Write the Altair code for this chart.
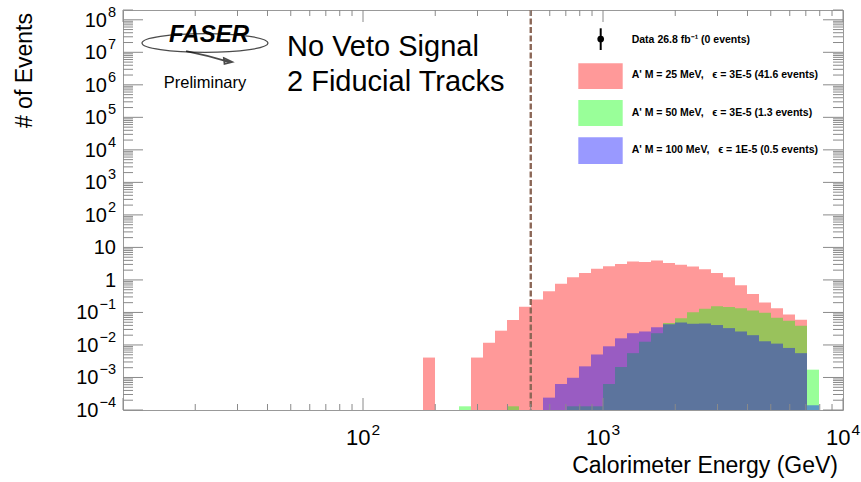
import altair as alt
import pandas as pd

# ---------------------------------------------------------------
# Histogram contents: bins are 0.05 wide in log10(E/GeV).
# *_bins hold each filled bin's lower edge as log10(E/GeV),
# *_events hold the expected events in that bin.
# ---------------------------------------------------------------
BIN_WIDTH = 0.05

m25_bins = [2.25, 2.45, 2.50, 2.55, 2.60, 2.65, 2.70, 2.75, 2.80, 2.85, 2.90,
            2.95, 3.00, 3.05, 3.10, 3.15, 3.20, 3.25, 3.30, 3.35, 3.40, 3.45,
            3.50, 3.55, 3.60, 3.65, 3.70, 3.75, 3.80]
m25_events = [4.1e-3, 4.1e-3, 1.17e-2, 2.75e-2, 5.9e-2, 0.151, 0.251, 0.447,
              0.76, 1.20, 1.62, 2.19, 2.63, 3.09, 3.72, 3.55, 3.98, 3.31, 2.95,
              2.57, 2.14, 1.62, 1.20, 0.69, 0.37, 0.204, 0.135, 0.087, 0.060]

m50_bins = [2.40, 2.60, 2.85, 2.90, 2.95, 3.00, 3.05, 3.10, 3.15, 3.20, 3.25,
            3.30, 3.35, 3.40, 3.45, 3.50, 3.55, 3.60, 3.65, 3.70, 3.75, 3.80,
            3.85]
m50_events = [1.3e-4, 1.3e-4, 1.3e-4, 1.3e-4, 1.3e-4, 6.3e-4, 2.1e-3, 5.6e-3,
              1.26e-2, 2.3e-2, 4.7e-2, 6.6e-2, 0.102, 0.129, 0.155, 0.148,
              0.135, 0.115, 0.098, 0.069, 0.056, 0.039, 1.74e-3]

m100_bins = [2.75, 2.80, 2.85, 2.90, 2.95, 3.00, 3.05, 3.10, 3.15, 3.20, 3.25,
             3.30, 3.35, 3.40, 3.45, 3.50, 3.55, 3.60, 3.65, 3.70, 3.75, 3.80,
             3.85]
m100_events = [2.4e-4, 6.3e-4, 9.8e-4, 2.2e-3, 5.1e-3, 9.1e-3, 1.6e-2, 2.3e-2,
               2.6e-2, 3.5e-2, 4.3e-2, 4.9e-2, 4.5e-2, 4.6e-2, 4.1e-2, 3.3e-2,
               2.6e-2, 2.0e-2, 1.3e-2, 1.1e-2, 8.1e-3, 5.6e-3, 1.4e-4]

SP = "\u00a0\u00a0\u00a0"
series_names = [f"A' M = 25 MeV,{SP}\u03f5 = 3E-5 (41.6 events)",
                f"A' M = 50 MeV,{SP}\u03f5 = 3E-5 (1.3 events)",
                f"A' M = 100 MeV,{SP}\u03f5 = 1E-5 (0.5 events)"]
series_colors = ["#ff0000", "#00ff00", "#0000ff"]
data_label = "Data 26.8 fb\u207b\u00b9 (0 events)"

cut_energy = [500]  # GeV, signal-region threshold

x_domain = [10, 1e4]
y_domain = [1e-4, 2e8]
x_major = [10, 100, 1000, 10000]
y_major_exp = list(range(-4, 9))

W, H = 720, 400
FONT = "Liberation Sans"
TICK = "#8a8a8a"

xs = alt.Scale(type="log", domain=x_domain, nice=False)
ys = alt.Scale(type="log", domain=y_domain, nice=False)


def hist_frame(bins, events):
    return pd.DataFrame({
        "lo": [10 ** b for b in bins],
        "hi": [10 ** round(b + BIN_WIDTH, 2) for b in bins],
        "n": events,
        "base": [y_domain[0]] * len(bins),
    })


def hist_layer(bins, events, color):
    return alt.Chart(hist_frame(bins, events)).mark_rect(
        fill=color, fillOpacity=0.4, strokeWidth=0
    ).encode(
        x=alt.X("lo:Q", scale=xs, axis=None),
        x2="hi:Q",
        y=alt.Y("n:Q", scale=ys, axis=None),
        y2="base:Q",
    )


layers = [
    hist_layer(m25_bins, m25_events, series_colors[0]),
    hist_layer(m50_bins, m50_events, series_colors[1]),
    hist_layer(m100_bins, m100_events, series_colors[2]),
]

# threshold line
layers.append(
    alt.Chart(pd.DataFrame({"e": cut_energy})).mark_rule(
        color="#8b6656", strokeWidth=2.4, strokeDash=[6, 2.5]
    ).encode(x=alt.X("e:Q", scale=xs), y=alt.value(0), y2=alt.value(H))
)

# ---------------- ticks on all four sides ----------------
x_minor = [m * 10 ** k for k in range(1, 4) for m in range(2, 10)]
y_major = [10.0 ** e for e in y_major_exp]
y_minor = [m * 10.0 ** k for k in range(-4, 9) for m in range(2, 10)
           if m * 10.0 ** k <= y_domain[1]]


def xtick(vals, y0, y1):
    return alt.Chart(pd.DataFrame({"v": vals})).mark_rule(
        color=TICK, strokeWidth=1
    ).encode(x=alt.X("v:Q", scale=xs), y=alt.value(y0), y2=alt.value(y1))


def ytick(vals, x0, x1):
    return alt.Chart(pd.DataFrame({"v": vals})).mark_rule(
        color=TICK, strokeWidth=1
    ).encode(y=alt.Y("v:Q", scale=ys), x=alt.value(x0), x2=alt.value(x1))


layers += [
    xtick(x_major, H - 12, H), xtick(x_minor, H - 6, H),
    xtick(x_major, 0, 12), xtick(x_minor, 0, 6),
    ytick(y_major, 0, 20), ytick(y_minor, 0, 10),
    ytick(y_major, W - 20, W), ytick(y_minor, W - 10, W),
]

# ---------------- tick labels (base + superscript) ----------------
DIGIT_W = {"0": .556, "1": .556, "2": .556, "3": .556, "4": .556, "5": .556,
           "6": .556, "7": .556, "8": .556, "9": .556, "\u2212": .584}


def text_w(s, size):
    return sum(DIGIT_W.get(c, .556) for c in s) * size


LB, LE = 20, 14.5   # base / exponent font sizes
R = -7              # right edge of y labels
rows = []
for e in y_major_exp:
    if e == 0:
        base, ex = "1", ""
    elif e == 1:
        base, ex = "10", ""
    else:
        base, ex = "10", str(e).replace("-", "\u2212")
    ew = text_w(ex, LE) if ex else 0
    rows.append({"v": 10.0 ** e, "base": base, "ex": ex,
                 "bx": R - ew - (1 if ex else 0), "ex_x": R})
ylab = pd.DataFrame(rows)

layers.append(
    alt.Chart(ylab).mark_text(align="right", baseline="middle", font=FONT,
                              fontSize=LB, color="black", dy=1).encode(
        x=alt.X("bx:Q", scale=None), y=alt.Y("v:Q", scale=ys), text="base:N")
)
layers.append(
    alt.Chart(ylab[ylab["ex"] != ""]).mark_text(
        align="right", baseline="middle", font=FONT, fontSize=LE,
        color="black", dy=-7).encode(
        x=alt.X("ex_x:Q", scale=None), y=alt.Y("v:Q", scale=ys), text="ex:N")
)

XB, XE = 22, 15.5
xlab = pd.DataFrame({"v": [100, 1000, 10000], "base": ["10", "10", "10"],
                     "ex": ["2", "3", "4"]})
xw = text_w("10", XB) + 1 + text_w("2", XE)
layers.append(
    alt.Chart(xlab).mark_text(align="left", baseline="middle", font=FONT,
                              fontSize=XB, color="black", dx=-xw / 2).encode(
        x=alt.X("v:Q", scale=xs), y=alt.value(H + 28), text="base:N")
)
layers.append(
    alt.Chart(xlab).mark_text(align="left", baseline="middle", font=FONT,
                              fontSize=XE, color="black",
                              dx=-xw / 2 + text_w("10", XB) + 1).encode(
        x=alt.X("v:Q", scale=xs), y=alt.value(H + 20), text="ex:N")
)

# ---------------- axis titles ----------------
layers.append(
    alt.Chart(pd.DataFrame({"t": ["Calorimeter Energy (GeV)"]})).mark_text(
        align="right", baseline="alphabetic", font=FONT, fontSize=23,
        color="black").encode(x=alt.value(W - 5), y=alt.value(H + 63),
                               text="t:N")
)
layers.append(
    alt.Chart(pd.DataFrame({"t": ["# of Events"]})).mark_text(
        align="right", baseline="alphabetic", font=FONT, fontSize=23,
        angle=270, color="black").encode(x=alt.value(-91), y=alt.value(3),
                                         text="t:N")
)

# ---------------- headline text ----------------
layers.append(
    alt.Chart(pd.DataFrame({"t": ["No Veto Signal", "2 Fiducial Tracks"],
                            "py": [37, 72]})).mark_text(
        align="left", baseline="middle", font=FONT, fontSize=29,
        color="black").encode(x=alt.value(164), y=alt.Y("py:Q", scale=None),
                               text="t:N")
)

# experiment logo: swoosh, arrow and lettering
swoosh = ("M -1 0 A 1 0.15 0 1 0 1 0 A 1 0.15 0 1 0 -1 0 Z")
arrow = ("M -0.3 0.13 Q 0.05 0.2 0.38 0.3 M 0.3 0.24 L 0.43 0.3 L 0.31 0.33 Z")
layers.append(
    alt.Chart(pd.DataFrame({"k": [0]})).mark_point(
        shape=swoosh, filled=False, stroke="black", strokeWidth=1.3,
        size=126 ** 2).encode(x=alt.value(82), y=alt.value(33))
)
layers.append(
    alt.Chart(pd.DataFrame({"k": [0]})).mark_point(
        shape=arrow, filled=False, stroke="black", strokeWidth=1.8,
        size=126 ** 2).encode(x=alt.value(82), y=alt.value(33))
)
layers.append(
    alt.Chart(pd.DataFrame({"t": ["FASER"]})).mark_text(
        align="center", baseline="alphabetic", font=FONT, fontSize=24,
        fontStyle="italic", fontWeight="bold", color="black").encode(
        x=alt.value(86), y=alt.value(32), text="t:N")
)
layers.append(
    alt.Chart(pd.DataFrame({"t": ["Preliminary"]})).mark_text(
        align="center", baseline="middle", font=FONT, fontSize=16.5,
        color="black").encode(x=alt.value(82), y=alt.value(73), text="t:N")
)

# ---------------- legend ----------------
leg = pd.DataFrame({
    "name": series_names,
    "color": series_colors,
    "y0": [53.3, 90.0, 127.3],
    "y1": [79.0, 116.0, 154.0],
    "ty": [65.0, 102.7, 140.0],
})
layers.append(
    alt.Chart(leg).mark_rect(fillOpacity=0.4).encode(
        x=alt.value(455.3), x2=alt.value(499.7),
        y=alt.Y("y0:Q", scale=None), y2="y1:Q",
        fill=alt.Fill("color:N", scale=None))
)
layers.append(
    alt.Chart(leg).mark_text(align="left", baseline="middle", font=FONT,
                             fontSize=10.5, fontWeight="bold",
                             color="black").encode(
        x=alt.value(508.7), y=alt.Y("ty:Q", scale=None), text="name:N")
)
layers.append(
    alt.Chart(pd.DataFrame({"k": [0]})).mark_rule(color="black",
                                                  strokeWidth=2).encode(
        x=alt.value(477.7), y=alt.value(18.3), y2=alt.value(40))
)
layers.append(
    alt.Chart(pd.DataFrame({"k": [0]})).mark_point(
        shape="circle", filled=True, color="black", size=45, opacity=1).encode(
        x=alt.value(477.7), y=alt.value(29))
)
layers.append(
    alt.Chart(pd.DataFrame({"t": [data_label]})).mark_text(
        align="left", baseline="middle", font=FONT, fontSize=10.5,
        fontWeight="bold", color="black").encode(
        x=alt.value(508.7), y=alt.value(30), text="t:N")
)

chart = alt.layer(*layers).properties(
    width=W, height=H,
    autosize=alt.AutoSizeParams(type="none"),
    padding={"left": 123, "top": 10, "right": 18, "bottom": 72},
    background="white",
).configure_view(stroke="#999999", strokeWidth=1)

chart.save("out.html", embed_options={"renderer": "svg", "actions": False})
